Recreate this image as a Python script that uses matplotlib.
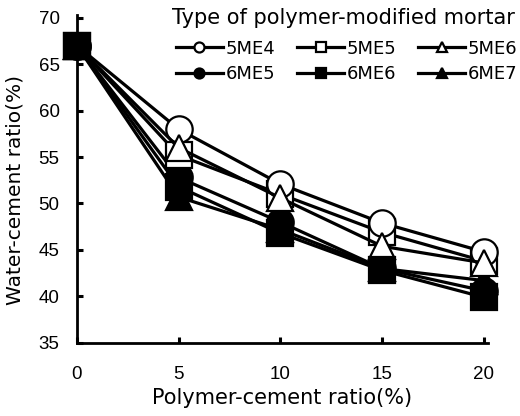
import matplotlib.pyplot as plt

# polymer-cement ratio (%)
pc_ratio = [0, 5, 10, 15, 20]

# water-cement ratio (%)
wc_5me4 = [67, 58.0, 52.1, 47.9, 44.8]
wc_5me5 = [67, 55.2, 51.0, 46.9, 43.8]
wc_5me6 = [67, 56.0, 50.6, 45.4, 43.6]
wc_6me5 = [67, 52.8, 48.0, 43.0, 40.6]
wc_6me6 = [67, 51.8, 46.8, 42.8, 39.9]
wc_6me7 = [67, 50.7, 47.2, 43.0, 41.7]

series = [
    ("5ME4", wc_5me4, "o", "white", 4),
    ("5ME5", wc_5me5, "s", "white", 3),
    ("5ME6", wc_5me6, "^", "white", 5),
    ("6ME5", wc_6me5, "o", "black", 2),
    ("6ME6", wc_6me6, "s", "black", 6),
    ("6ME7", wc_6me7, "^", "black", 1),
]

plt.rcParams["font.family"] = ["Liberation Sans", "DejaVu Sans"]

fig = plt.figure(figsize=(5.2, 4.16), dpi=100)
ax = fig.add_axes([0.148, 0.176, 0.79, 0.788])

handles = {}
for name, vals, marker, face, z in series:
    (ln,) = ax.plot(
        pc_ratio,
        vals,
        marker=marker,
        color="black",
        markerfacecolor=face,
        markeredgecolor="black",
        markersize=19,
        markeredgewidth=1.6,
        linewidth=2.3,
        label=name,
        zorder=z,
        clip_on=False,
    )
    handles[name] = ln

ax.set_xlim(0, 20.2)
ax.set_ylim(35, 70.3)
ax.set_xticks([0, 5, 10, 15, 20])
ax.set_yticks([35, 40, 45, 50, 55, 60, 65, 70])

for side in ["top", "right"]:
    ax.spines[side].set_visible(False)
for side in ["left", "bottom"]:
    ax.spines[side].set_linewidth(2.0)

ax.tick_params(direction="in", length=4, width=2.2, labelsize=13.5)
ax.tick_params(axis="x", pad=17)
ax.tick_params(axis="y", pad=12.5)

ax.set_xlabel("Polymer-cement ratio(%)", fontsize=15, family="DejaVu Sans",
              labelpad=3)
ax.set_ylabel("Water-cement ratio(%)", fontsize=14.5, family="DejaVu Sans")
ax.yaxis.set_label_coords(-0.128, 0.465)

fig.text(0.99, 0.957, "Type of polymer-modified mortar", fontsize=15,
         family="DejaVu Sans", ha="right", va="center")

# legend fills column by column, so order it to read row by row
order = ["5ME4", "6ME5", "5ME5", "6ME6", "5ME6", "6ME7"]
leg = ax.legend(
    handles=[handles[k] for k in order],
    ncol=3,
    loc="upper right",
    bbox_to_anchor=(0.995, 0.905),
    bbox_transform=fig.transFigure,
    frameon=False,
    prop={"family": "DejaVu Sans", "size": 13},
    markerscale=0.38,
    handlelength=2.6,
    handletextpad=0.15,
    columnspacing=1.2,
    labelspacing=0.42,
    borderpad=0.0,
    borderaxespad=0,
)

fig.savefig("out.png", dpi=100)
